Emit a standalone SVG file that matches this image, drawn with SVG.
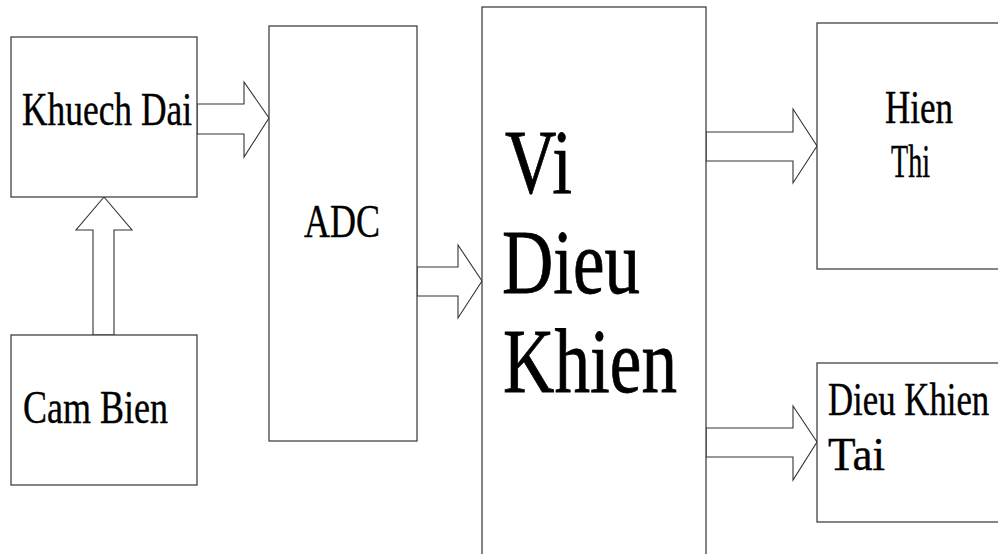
<svg xmlns="http://www.w3.org/2000/svg" width="998" height="554" viewBox="0 0 998 554">
<style>
.box{fill:#fff;stroke:#333;stroke-width:1.2}
.arr{fill:#fff;stroke:#333;stroke-width:1.1;stroke-linejoin:miter}
.t{font-family:"Liberation Serif","Times New Roman",serif;font-size:47px;fill:#000;stroke:#000;stroke-width:0.4}
.big{font-family:"Liberation Serif","Times New Roman",serif;font-size:92px;fill:#000;stroke:#000;stroke-width:0.8}
</style>
<rect width="998" height="554" fill="#fff"/>
<g id="connectors">
<polygon class="arr" points="197,104 244,104 244,82 269,118 244,157 244,134 197,134"/>
<polygon class="arr" points="93,335 93,230 76,230 104,197 132,230 114,230 114,335"/>
<polygon class="arr" points="417,267 458,267 458,245 482,281 458,318 458,296 417,296"/>
<polygon class="arr" points="706,132 793,132 793,109 817,146 793,183 793,161 706,161"/>
<polygon class="arr" points="706,428 793,428 793,406 817,442 793,480 793,457 706,457"/>
</g>
<g id="khuech-dai">
<rect class="box" x="11" y="37" width="186" height="160"/>
<text class="t" x="22" y="125" textLength="170" lengthAdjust="spacingAndGlyphs">Khuech Dai</text>
</g>
<g id="cam-bien">
<rect class="box" x="11" y="335" width="186" height="150"/>
<text class="t" x="23" y="423" textLength="145" lengthAdjust="spacingAndGlyphs">Cam Bien</text>
</g>
<g id="adc">
<rect class="box" x="269" y="26" width="148" height="415"/>
<text class="t" x="304" y="237" textLength="76" lengthAdjust="spacingAndGlyphs">ADC</text>
</g>
<g id="vi-dieu-khien">
<rect class="box" x="482" y="7" width="224" height="560"/>
<text class="big" x="505" y="193" textLength="67" lengthAdjust="spacingAndGlyphs">Vi</text>
<text class="big" x="502" y="293" textLength="138" lengthAdjust="spacingAndGlyphs">Dieu</text>
<text class="big" x="503" y="392" textLength="174" lengthAdjust="spacingAndGlyphs">Khien</text>
</g>
<g id="hien-thi">
<rect class="box" x="817" y="23" width="200" height="246"/>
<text class="t" x="885" y="123" textLength="68" lengthAdjust="spacingAndGlyphs">Hien</text>
<text class="t" x="891" y="177" textLength="39" lengthAdjust="spacingAndGlyphs">Thi</text>
</g>
<g id="dieu-khien-tai">
<rect class="box" x="817" y="363" width="200" height="159"/>
<text class="t" transform="matrix(0.74,0,0,1,828,415)">Dieu Khien</text>
<text class="t" x="828" y="470" textLength="57" lengthAdjust="spacingAndGlyphs">Tai</text>
</g>
</svg>
